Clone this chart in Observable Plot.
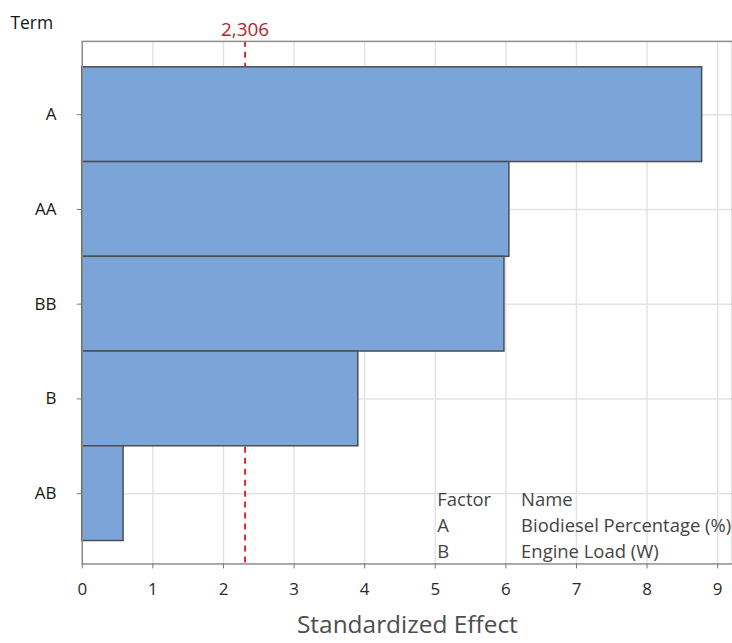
<!DOCTYPE html>
<html>
<head>
<meta charset="utf-8">
<script src="https://cdn.jsdelivr.net/npm/d3@7"></script>
<script src="https://cdn.jsdelivr.net/npm/@observablehq/plot@0.6"></script>
<style>
  html, body { margin: 0; padding: 0; background: #fff; overflow: hidden; }
</style>
</head>
<body>
<div id="chart"></div>
<script>
// Pareto chart of the standardized effects
const terms = ["A", "AA", "BB", "B", "AB"];
const effects = [8.78, 6.05, 5.98, 3.91, 0.585];
const critical = 2.306;
const criticalLabel = "2,306";
const xTicks = [0, 1, 2, 3, 4, 5, 6, 7, 8, 9];
const factorCodes = ["A", "B"];
const factorNames = ["Biodiesel Percentage (%)", "Engine Load (W)"];

const rows = terms.map((t, i) => ({ term: t, effect: effects[i] }));

const chart = Plot.plot({
  width: 734,
  height: 643,
  marginTop: 41,
  marginBottom: 78,
  marginLeft: 82,
  marginRight: 0,
  style: { fontFamily: "'Open Sans', sans-serif", fontSize: "17px", color: "#222", background: "#fff" },
  x: { domain: [0, 9.21] },
  y: { domain: terms, padding: 0, insetTop: 25, insetBottom: 23 },
  marks: [
    Plot.gridX({ ticks: xTicks, stroke: "#e3e3e3", strokeOpacity: 1, strokeWidth: 1.5 }),
    Plot.gridY({ stroke: "#e3e3e3", strokeOpacity: 1, strokeWidth: 1.5 }),
    Plot.ruleX([critical], { stroke: "#e0282e", strokeWidth: 2, strokeDasharray: "6,5" }),
    Plot.barX(rows, { y: "term", x: "effect", fill: "#7ba5d8", stroke: "#4d4d4d", strokeWidth: 1.5 }),
    Plot.frame({ stroke: "#8c8c8c", strokeWidth: 1.5 }),
    Plot.axisY({ tickSize: 5, tickPadding: 21, fontSize: 17, label: null, stroke: "#777", fill: "#151515" }),
    Plot.axisX({ ticks: xTicks, tickSize: 5, tickPadding: 14, fontSize: 17, label: null, stroke: "#777", fill: "#2a2a2a" }),
    Plot.text(["Standardized Effect"], { frameAnchor: "bottom", lineAnchor: "middle", dy: 61, fontSize: 24.5, fill: "#4d4d4d" }),
    Plot.text(["Term"], { frameAnchor: "top-left", lineAnchor: "middle", dx: -72, dy: -18, textAnchor: "start", fontSize: 17.5, fill: "#151515" }),
    Plot.text([critical], { x: d => d, frameAnchor: "top", lineAnchor: "middle", dy: -11.5, text: () => criticalLabel, fontSize: 19, fill: "#b5242a" }),
    Plot.text([["Factor", ...factorCodes].join("\n")], {
      frameAnchor: "bottom-right", dx: -296, dy: -40, textAnchor: "start",
      lineAnchor: "middle", lineHeight: 1.4, fontSize: 18.5, fill: "#444"
    }),
    Plot.text([["Name", ...factorNames].join("\n")], {
      frameAnchor: "bottom-right", dx: -212, dy: -40, textAnchor: "start",
      lineAnchor: "middle", lineHeight: 1.4, fontSize: 18.5, fill: "#444"
    })
  ]
});

document.getElementById("chart").append(chart);
</script>
</body>
</html>
